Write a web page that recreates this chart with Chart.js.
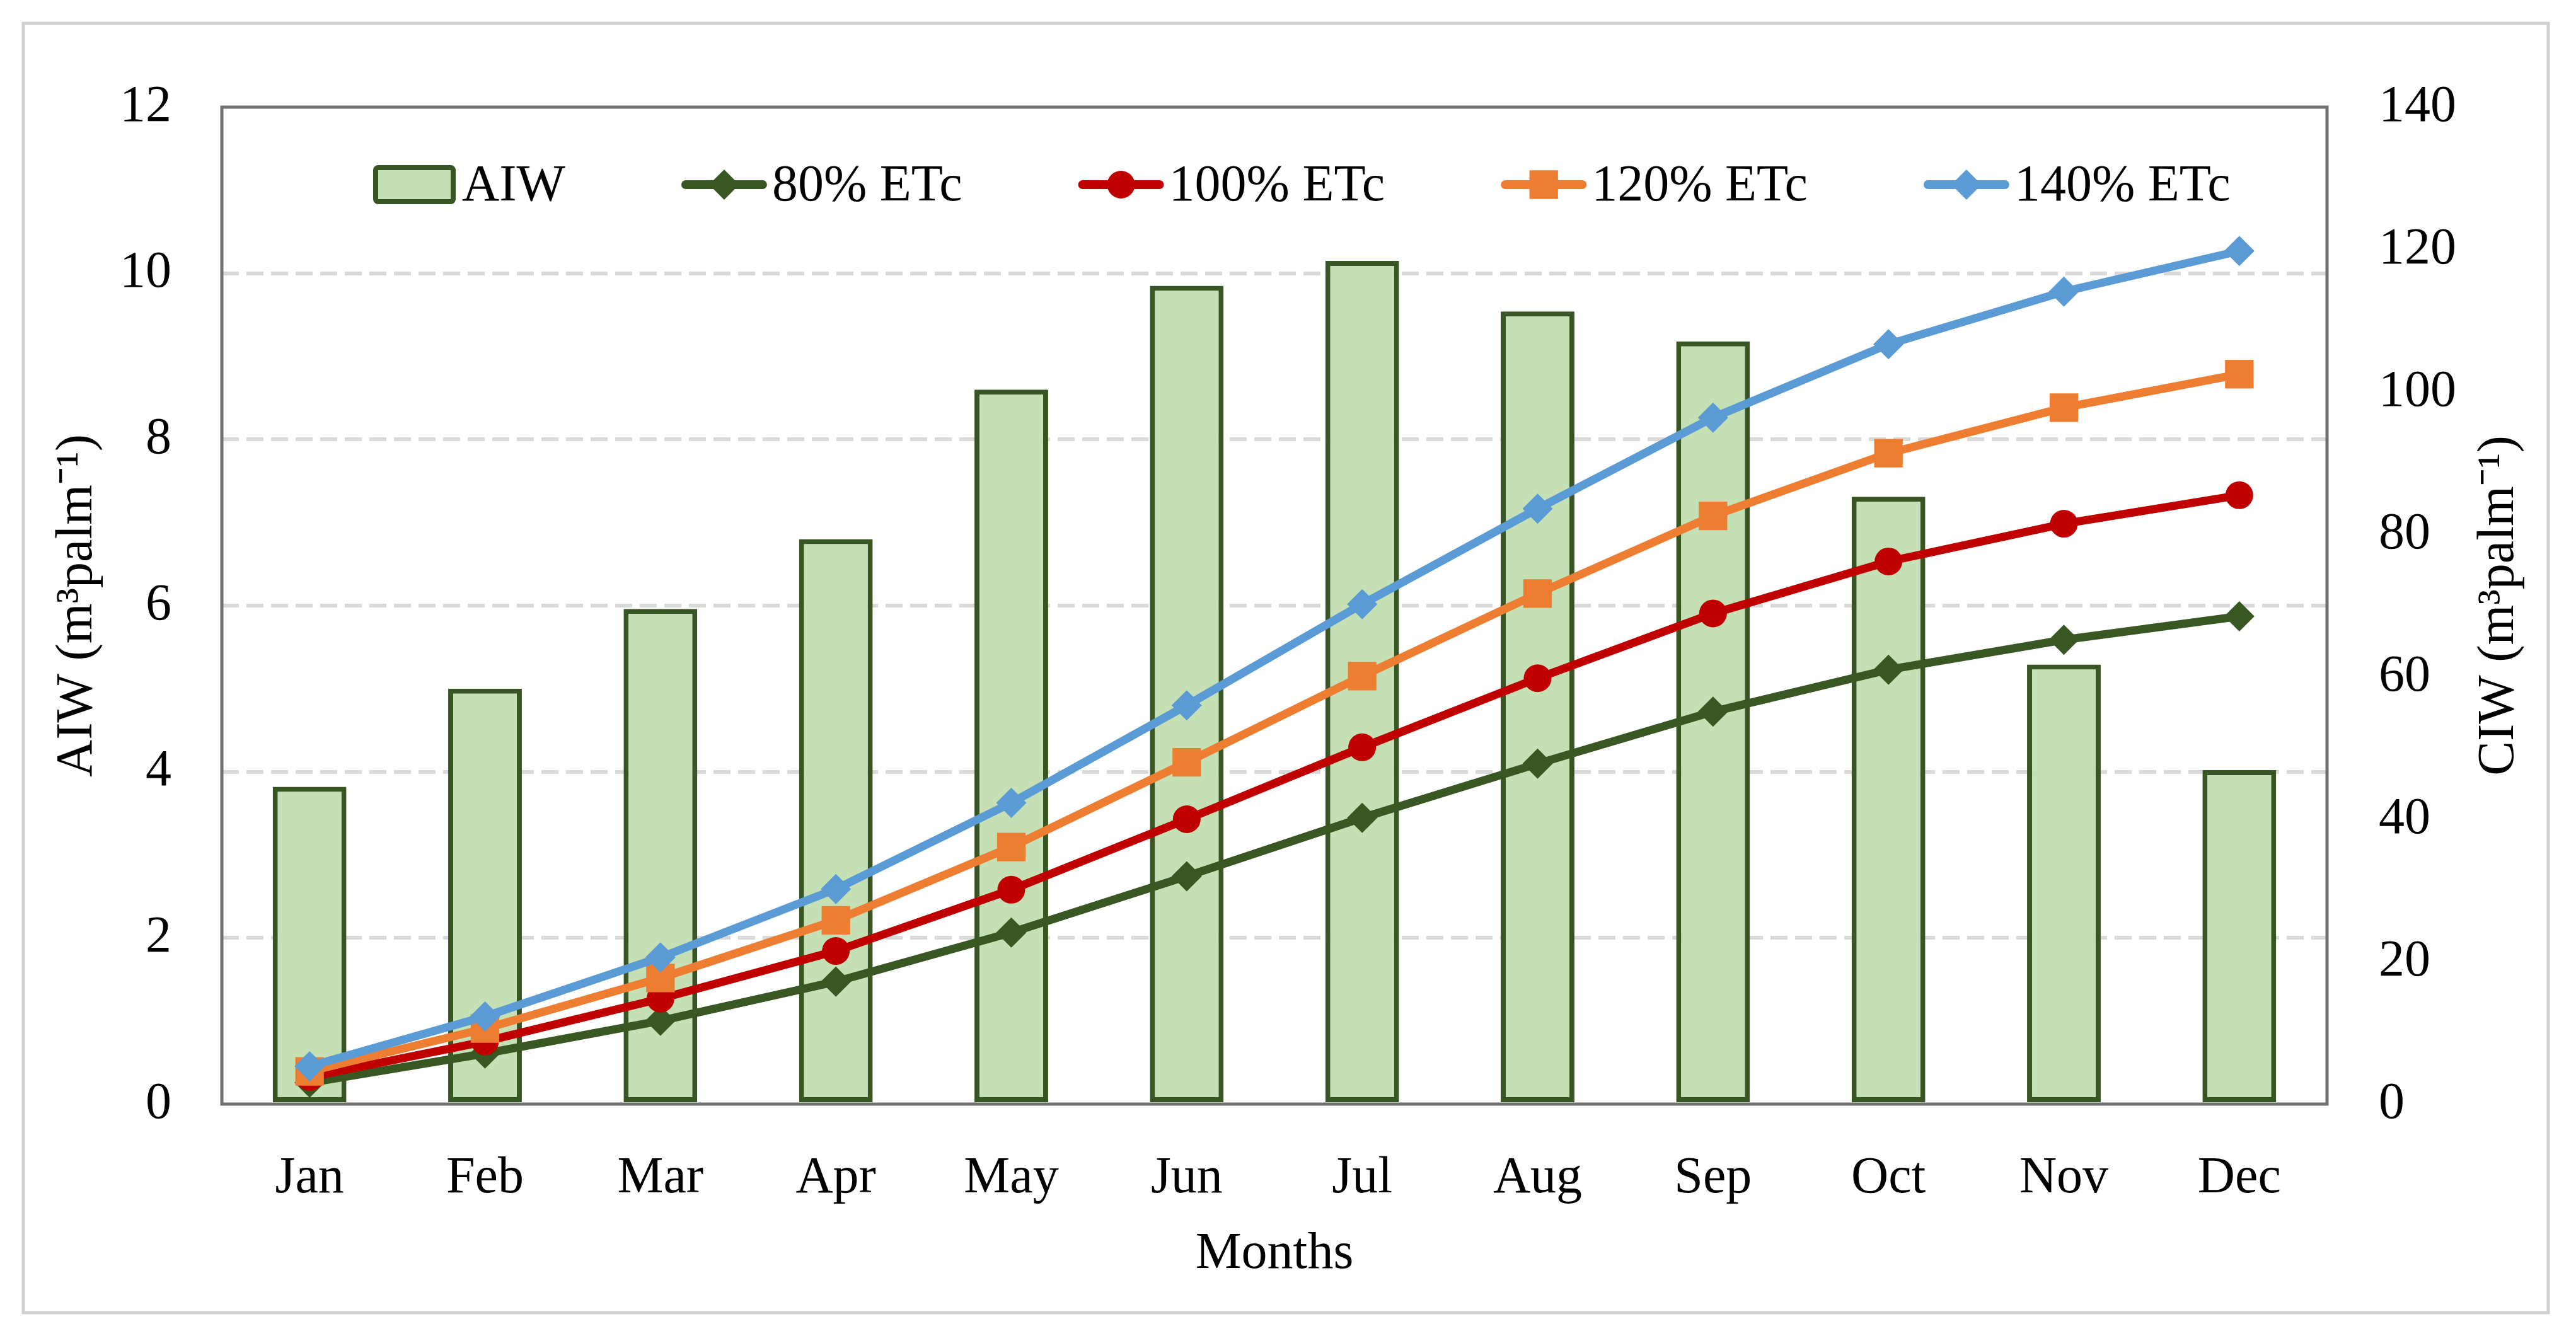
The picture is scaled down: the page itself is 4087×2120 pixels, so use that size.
<!DOCTYPE html>
<html>
<head>
<meta charset="utf-8">
<script src="https://cdn.jsdelivr.net/npm/chart.js@4.4.1/dist/chart.umd.min.js"></script>
<style>
  html, body { margin: 0; padding: 0; background: #fff; }
  #wrap { width: 4087px; height: 2120px; position: relative; }
</style>
</head>
<body>
<div id="wrap"><canvas id="irrigationChart"></canvas></div>
<script>
'use strict';

// values
const months = ['Jan', 'Feb', 'Mar', 'Apr', 'May', 'Jun', 'Jul', 'Aug', 'Sep', 'Oct', 'Nov', 'Dec'];
const aiw = [3.82, 5.0, 5.96, 6.8, 8.6, 9.85, 10.15, 9.54, 9.18, 7.31, 5.29, 4.02];
const etc80 = [3.0, 7.1, 11.7, 17.2, 24.1, 32.0, 40.2, 47.8, 55.1, 61.0, 65.2, 68.5];
const etc100 = [3.8, 8.8, 14.8, 21.5, 30.1, 40.0, 50.1, 59.8, 68.9, 76.2, 81.5, 85.5];
const etc120 = [4.6, 10.6, 17.7, 25.8, 36.1, 48.0, 60.1, 71.7, 82.6, 91.4, 97.8, 102.5];
const etc140 = [5.3, 12.3, 20.6, 30.2, 42.3, 56.0, 70.2, 83.6, 96.4, 106.7, 114.1, 119.8];
const aiwTicks = [0, 2, 4, 6, 8, 10, 12];
const ciwTicks = [0, 20, 40, 60, 80, 100, 120, 140];
const ciwTitle = 'CIW (m³palm⁻¹)';

const FONT = "'Liberation Serif', 'Times New Roman', serif";
const barFill = '#c5e0b4';
const barEdge = '#375623';
const lineColors = ['#385723', '#c00000', '#ed7d31', '#5b9bd5'];

Chart.defaults.font.family = FONT;
Chart.defaults.font.size = 82;
Chart.defaults.color = '#000';

// outer figure frame, plot frame (over bars, under lines), right title read bottom-up
const framesPlugin = {
  id: 'frames',
  beforeDraw(chart) {
    const ctx = chart.ctx;
    ctx.save();
    ctx.fillStyle = '#fff';
    ctx.fillRect(0, 0, chart.width, chart.height);
    ctx.strokeStyle = '#d0d0d0';
    ctx.lineWidth = 5;
    ctx.strokeRect(37, 37, chart.width - 81, chart.height - 74);
    ctx.restore();
  },
  afterDatasetDraw(chart, args) {
    if (args.meta.type !== 'bar') return;
    const a = chart.chartArea;
    const ctx = chart.ctx;
    ctx.save();
    ctx.strokeStyle = '#707070';
    ctx.lineWidth = 5;
    ctx.strokeRect(a.left, a.top, a.right - a.left, a.bottom - a.top);
    ctx.restore();
  },
  afterDraw(chart) {
    const a = chart.chartArea;
    const ctx = chart.ctx;
    ctx.save();
    ctx.translate(a.right + 273, (a.top + a.bottom) / 2);
    ctx.rotate(-Math.PI / 2);
    ctx.font = '82px ' + FONT;
    ctx.fillStyle = '#000';
    ctx.textAlign = 'center';
    ctx.textBaseline = 'middle';
    ctx.fillText(ciwTitle, 0, 0);
    ctx.restore();
  }
};

function drawMarker(ctx, style, x, y, r, color) {
  ctx.fillStyle = color;
  ctx.beginPath();
  if (style === 'circle') {
    ctx.arc(x, y, r, 0, Math.PI * 2);
  } else if (style === 'rect') {
    const h = r * Math.SQRT1_2;
    ctx.rect(x - h, y - h, h * 2, h * 2);
  } else {
    ctx.moveTo(x - r, y);
    ctx.lineTo(x, y - r);
    ctx.lineTo(x + r, y);
    ctx.lineTo(x, y + r);
    ctx.closePath();
  }
  ctx.fill();
}

const legendPlugin = {
  id: 'insideLegend',
  afterDraw(chart) {
    const ctx = chart.ctx;
    const a = chart.chartArea;
    const cy = a.top + 123;
    let x = a.left + 240;
    ctx.save();
    ctx.font = '82px ' + FONT;
    ctx.textBaseline = 'middle';
    ctx.textAlign = 'left';
    chart.data.datasets.forEach(ds => {
      if (ds.type === 'bar') {
        ctx.fillStyle = barFill;
        ctx.strokeStyle = barEdge;
        ctx.lineWidth = 8;
        ctx.beginPath();
        ctx.roundRect(x + 4, cy - 27, 123, 54, 4);
        ctx.fill();
        ctx.stroke();
        x += 131 + 10;
      } else {
        ctx.strokeStyle = ds.borderColor;
        ctx.lineWidth = 14;
        ctx.lineCap = 'round';
        ctx.beginPath();
        ctx.moveTo(x + 7, cy);
        ctx.lineTo(x + 129, cy);
        ctx.stroke();
        drawMarker(ctx, ds.pointStyle, x + 68, cy, ds.pointRadius, ds.borderColor);
        x += 136 + 8;
      }
      ctx.fillStyle = '#000';
      ctx.fillText(ds.label, x, cy + 3);
      x += ctx.measureText(ds.label).width + 184;
    });
    ctx.restore();
  }
};

function lineSet(label, data, color, style, radius, order) {
  return {
    type: 'line',
    label: label,
    data: data,
    yAxisID: 'y1',
    borderColor: color,
    backgroundColor: color,
    borderWidth: 13,
    tension: 0,
    pointStyle: style,
    pointRadius: radius,
    pointHoverRadius: radius,
    pointBorderWidth: 0,
    pointBackgroundColor: color,
    order: order
  };
}

const ctx = document.getElementById('irrigationChart').getContext('2d');
new Chart(ctx, {
  data: {
    labels: months,
    datasets: [
      {
        type: 'bar',
        label: 'AIW',
        data: aiw,
        yAxisID: 'y',
        backgroundColor: barFill,
        borderColor: barEdge,
        borderWidth: 8,
        borderSkipped: false,
        barPercentage: 0.42,
        categoryPercentage: 1.0,
        order: 5
      },
      lineSet('80% ETc', etc80, lineColors[0], 'rectRot', 24, 4),
      lineSet('100% ETc', etc100, lineColors[1], 'circle', 22, 3),
      lineSet('120% ETc', etc120, lineColors[2], 'rect', 32, 2),
      lineSet('140% ETc', etc140, lineColors[3], 'rectRot', 24, 1)
    ]
  },
  options: {
    responsive: true,
    maintainAspectRatio: false,
    animation: false,
    layout: { padding: { top: 170, left: 0, right: 0, bottom: 0 } },
    plugins: {
      legend: { display: false },
      tooltip: { enabled: false }
    },
    scales: {
      x: {
        grid: { display: false },
        border: { display: false },
        ticks: { padding: 61, maxRotation: 0 },
        title: { display: true, text: 'Months', padding: { top: 0, bottom: 80 } },
        afterFit(scale) { scale.height = 368; }
      },
      y: {
        position: 'left',
        min: aiwTicks[0],
        max: aiwTicks[aiwTicks.length - 1],
        ticks: { stepSize: aiwTicks[1] - aiwTicks[0], padding: 80 },
        grid: {
          drawTicks: false,
          lineWidth: 6,
          color: c => (c.tick && (c.tick.value === 0 || c.tick.value === 12)) ? 'rgba(0,0,0,0)' : '#d9d9d9'
        },
        border: { display: false, dash: [27, 12] },
        title: { display: true, text: 'AIW (m³palm⁻¹)', padding: { top: 74, bottom: 0 } },
        afterFit(scale) { scale.width = 352; }
      },
      y1: {
        position: 'right',
        min: ciwTicks[0],
        max: ciwTicks[ciwTicks.length - 1],
        ticks: { stepSize: ciwTicks[1] - ciwTicks[0], padding: 82 },
        grid: { display: false, drawTicks: false },
        border: { display: false },
        afterFit(scale) { scale.width = 395; }
      }
    }
  },
  plugins: [framesPlugin, legendPlugin]
});
</script>
</body>
</html>
